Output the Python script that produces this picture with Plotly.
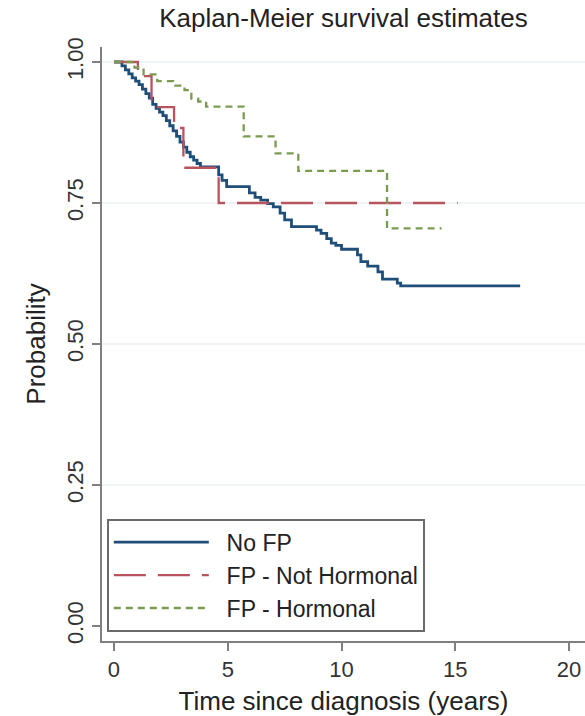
import plotly.graph_objects as go

# ---- data ----
nofp_t = [0, 0.35, 0.5, 0.65, 0.8, 0.95, 1.1, 1.25, 1.4, 1.55, 1.7, 1.85, 2.0, 2.15, 2.3,
          2.45, 2.6, 2.75, 2.9, 3.05, 3.2, 3.35, 3.5, 3.65, 3.8, 4.6, 4.75, 4.95, 5.95,
          6.2, 6.45, 6.75, 7.0, 7.3, 7.5, 7.8, 8.9, 9.1, 9.35, 9.55, 9.75, 10.0, 10.7,
          10.85, 11.15, 11.6, 11.8, 12.45, 12.6, 17.85]
nofp_s = [1.0, 0.993, 0.986, 0.979, 0.972, 0.966, 0.96, 0.952, 0.944, 0.936, 0.925, 0.918,
          0.911, 0.905, 0.896, 0.887, 0.878, 0.868, 0.858, 0.849, 0.84, 0.832, 0.826, 0.82,
          0.814, 0.80, 0.79, 0.779, 0.768, 0.76, 0.755, 0.749, 0.743, 0.732, 0.72, 0.708,
          0.702, 0.696, 0.687, 0.679, 0.675, 0.668, 0.658, 0.646, 0.638, 0.628, 0.615,
          0.608, 0.603, 0.603]

nh_t = [0, 1.05, 1.65, 2.64, 3.05, 4.6, 15.1]
nh_s = [1.0, 0.975, 0.92, 0.883, 0.8125, 0.75, 0.75]

h_t = [0, 0.9, 1.3, 1.9, 2.6, 3.1, 3.4, 3.7, 4.05, 5.7, 7.1, 8.1, 12.0, 14.4]
h_s = [1.0, 0.99, 0.978, 0.966, 0.958, 0.95, 0.935, 0.93, 0.921, 0.868, 0.838, 0.807,
       0.705, 0.705]

series_names = ["No FP", "FP - Not Hormonal", "FP - Hormonal"]

x_ticks = [0, 5, 10, 15, 20]
y_ticks = [0.0, 0.25, 0.5, 0.75, 1.0]
y_ticklabels = ["0.00", "0.25", "0.50", "0.75", "1.00"]
grid_y = [0.25, 0.5, 0.75, 1.0]

FONT = "Liberation Sans, Arial, Helvetica, sans-serif"
PAD = "\u00a0\u00a0"

fig = go.Figure()
fig.add_trace(go.Scatter(x=nofp_t, y=nofp_s, mode="lines", line_shape="hv",
                         name=PAD + series_names[0], legendgroup="a",
                         line=dict(color="#1f4e79", width=2.8)))
fig.add_trace(go.Scatter(x=nh_t, y=nh_s, mode="lines", line_shape="hv",
                         name=PAD + series_names[1], legendgroup="b",
                         line=dict(color="#b8545e", width=2.3, dash="32px,12px")))
fig.add_trace(go.Scatter(x=h_t, y=h_s, mode="lines", line_shape="hv",
                         name=PAD + series_names[2], legendgroup="c",
                         line=dict(color="#7a9c50", width=2.3, dash="7px,5px")))

shapes = []
for gy in grid_y:
    shapes.append(dict(type="line", xref="paper", x0=0, x1=1, yref="y", y0=gy, y1=gy,
                       line=dict(color="#dde8ef", width=1.2), layer="below"))

fig.update_layout(
    width=585, height=716,
    margin=dict(l=102, r=0, t=47, b=75),
    paper_bgcolor="white", plot_bgcolor="white",
    font=dict(family=FONT, size=22, color="#222222"),
    title=dict(text="Kaplan-Meier survival estimates", x=0.5, xref="paper",
               y=1 - 18 / 716, yanchor="middle",
               font=dict(family=FONT, size=26, color="#222222")),
    shapes=shapes,
    showlegend=True,
    legend=dict(x=0.0104, y=0.0152, xanchor="left", yanchor="bottom",
                bgcolor="white", bordercolor="#6a6a6a", borderwidth=1.8,
                font=dict(family=FONT, size=23, color="#222222"),
                itemwidth=95, tracegroupgap=6, traceorder="normal"),
    xaxis=dict(range=[-0.527, 20.70], tickvals=x_ticks, showgrid=False, zeroline=False,
               showline=True, linecolor="#808080", linewidth=2,
               ticks="outside", ticklen=8, tickwidth=2, tickcolor="#808080",
               tickfont=dict(size=22, color="#333333"),
               title=dict(text="Time since diagnosis (years)", standoff=12,
                          font=dict(size=26, color="#222222"))),
    yaxis=dict(range=[-0.0266, 1.0266], tickvals=y_ticks, ticktext=y_ticklabels,
               showgrid=False, zeroline=False, tickangle=-90,
               showline=True, linecolor="#808080", linewidth=2,
               ticks="outside", ticklen=8, tickwidth=2, tickcolor="#808080",
               tickfont=dict(size=22, color="#333333"),
               title=dict(text="Probability", standoff=10,
                          font=dict(size=26, color="#222222"))),
)

fig.write_html("out.html")
